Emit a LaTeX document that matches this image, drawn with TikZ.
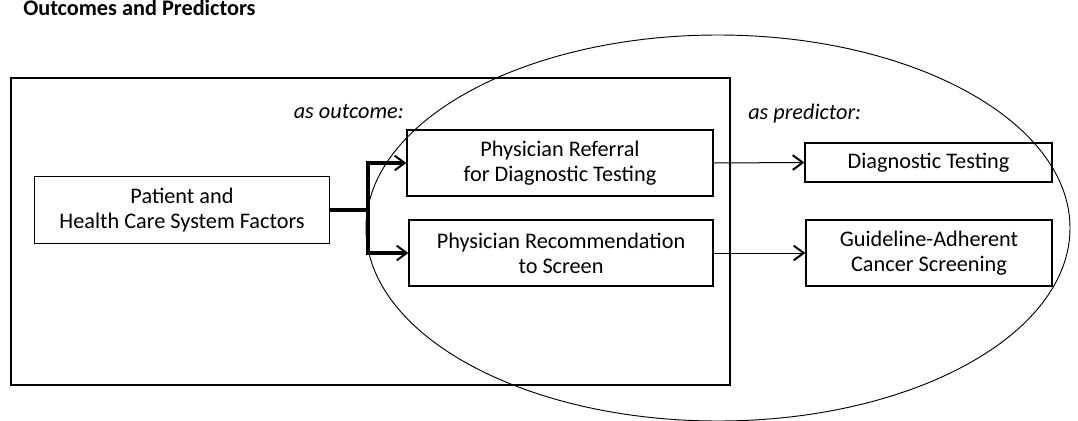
\documentclass[tikz,border=0pt]{standalone}
\usepackage{fontspec}
\setmainfont{Carlito}
\usetikzlibrary{arrows.meta}
\tikzset{
  box/.style={draw, line width=0.9pt, align=center, inner sep=0pt, font=\fontsize{16.7pt}{18.75pt}\selectfont},
  lab/.style={font=\fontsize{16.7pt}{19pt}\selectfont\itshape, inner sep=0pt},
  arr/.style={-{Straight Barb[length=7.5pt,width=11pt,line width=1.5pt]}},
  thinarr/.style={arr, line width=0.75pt},
  thickarr/.style={arr, line width=2.4pt},
}
\begin{document}
\begin{tikzpicture}[x=0.75pt,y=-0.75pt]
\useasboundingbox (0,0) rectangle (1078,421);
% title
\node[anchor=base west, inner sep=0pt, font=\fontsize{16.7pt}{19pt}\selectfont\bfseries] (title) at (23,15) {Outcomes and Predictors};
% outer frame
\node[draw, line width=1pt, minimum width=539.25pt, minimum height=230.25pt, inner sep=0pt] (frame) at (370.5,231.5) {};
% ellipse
\draw[line width=0.7pt] (718,228) ellipse [x radius=352, y radius=193];
% labels
\node[lab, anchor=base east] (outlab) at (404,118) {as outcome:};
\node[lab, anchor=base west] (predlab) at (748,119) {as predictor:};
% boxes
\node[box, minimum width=221.25pt, minimum height=50.25pt] (pat) at (182,210) {Patient and\\Health Care System Factors};
\node[box, minimum width=229.5pt, minimum height=49.5pt] (ref) at (560,163) {Physician Referral\\for Diagnostic Testing};
\node[box, minimum width=228pt, minimum height=49.5pt] (rec) at (561,253) {Physician Recommendation\\to Screen};
\node[box, minimum width=185.25pt, minimum height=29.25pt] (diag) at (928.5,162.5) {Diagnostic Testing};
\node[box, minimum width=184.5pt, minimum height=49.5pt] (guide) at (929,253) {Guideline-Adherent\\Cancer Screening};
% connectors
\coordinate (j) at (368,210);
\draw[line width=2.4pt] (pat.east) -- (j);
\draw[thickarr] (j) |- (ref.west);
\draw[thickarr] (j) |- (rec.west);
\draw[thinarr] (ref.east) -- (diag.west);
\draw[thinarr] (rec.east) -- (guide.west);
\end{tikzpicture}
\end{document}
